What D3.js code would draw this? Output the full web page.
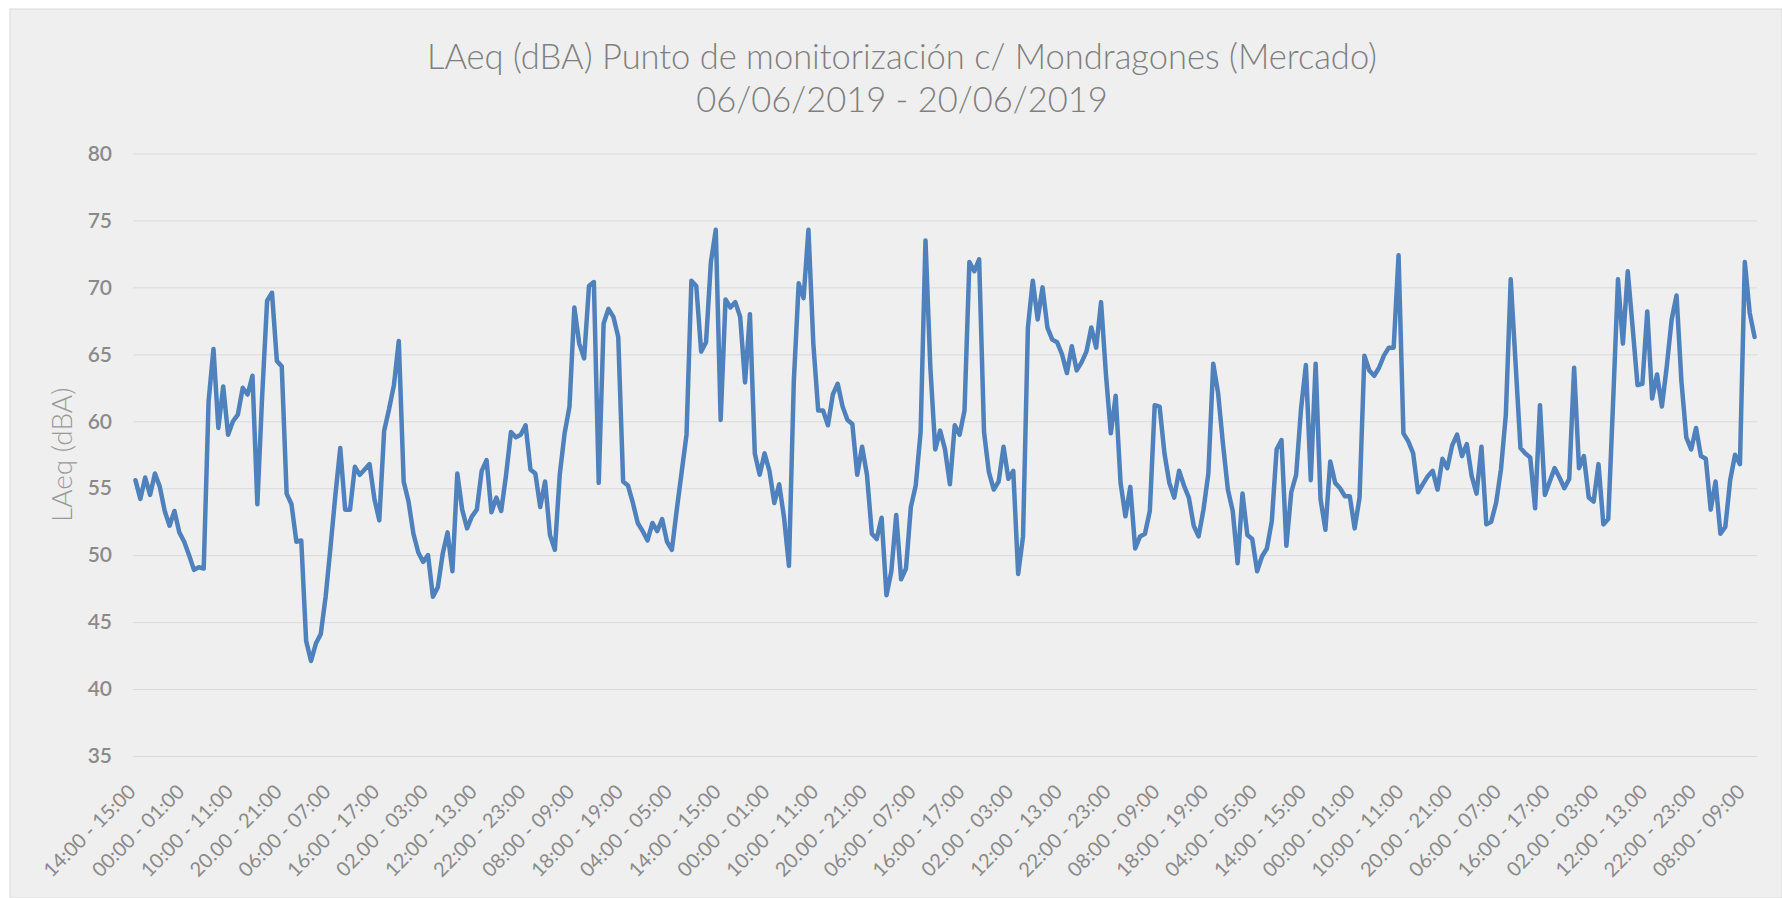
<!DOCTYPE html>
<html>
<head>
<meta charset="utf-8">
<script src="https://cdn.jsdelivr.net/npm/d3@7"></script>
<style>
  html, body { margin: 0; padding: 0; background: #fff; }
  svg { display: block; font-family: Lato, "Open Sans", sans-serif; }
</style>
</head>
<body>
<svg id="chart" width="1782" height="898"></svg>
<script>
// titles
const titleLines = [
  "LAeq (dBA) Punto de monitorización c/ Mondragones (Mercado)",
  "06/06/2019 - 20/06/2019"
];
const yTitle = "LAeq (dBA)";

// hourly slot labels, as written in the source sheet (some use "." instead of ":")
const hourSlots = [
  "00:00 - 01:00", "01:00 - 02:00", "02.00 - 03:00", "03:00 - 04:00",
  "04:00 - 05:00", "05:00 - 06:00", "06:00 - 07:00", "07:00 - 08:00",
  "08:00 - 09:00", "09:00 - 10:00", "10:00 - 11:00", "11:00 - 12:00",
  "12:00 - 13.00", "13:00 - 14:00", "14:00 - 15:00", "15:00 - 16:00",
  "16:00 - 17:00", "17:00 - 18:00", "18:00 - 19:00", "19:00 - 20:00",
  "20.00 - 21:00", "21:00 - 22:00", "22:00 - 23:00", "23:00 - 00:00"
];
const firstHour = 14;   // series starts 06/06 14:00
const labelEvery = 10;  // one category label out of ten is shown
const yTicks = [35, 40, 45, 50, 55, 60, 65, 70, 75, 80];

// LAeq per hour (dBA)
const laeq = [
  55.6, 54.2, 55.8, 54.5, 56.1, 55.1, 53.3, 52.2, 53.3, 51.7,
  51.0, 50.0, 48.9, 49.1, 49.0, 61.5, 65.4, 59.5, 62.6, 59.0,
  60.0, 60.5, 62.5, 62.0, 63.4, 53.8, 62.0, 69.0, 69.6, 64.5,
  64.1, 54.6, 53.8, 51.0, 51.1, 43.6, 42.1, 43.4, 44.1, 46.9,
  50.6, 54.5, 58.0, 53.4, 53.4, 56.6, 56.0, 56.4, 56.8, 54.2,
  52.6, 59.3, 60.9, 62.7, 66.0, 55.5, 54.0, 51.6, 50.2, 49.5,
  50.0, 46.9, 47.6, 50.1, 51.7, 48.8, 56.1, 53.4, 52.0, 52.9,
  53.4, 56.3, 57.1, 53.2, 54.3, 53.3, 56.0, 59.2, 58.8, 59.0,
  59.7, 56.4, 56.1, 53.6, 55.5, 51.5, 50.4, 56.0, 59.1, 61.1,
  68.5, 65.8, 64.7, 70.1, 70.4, 55.4, 67.3, 68.4, 67.8, 66.3,
  55.5, 55.2, 53.9, 52.4, 51.8, 51.1, 52.4, 51.8, 52.7, 51.0,
  50.4, 53.4, 56.2, 59.0, 70.5, 70.1, 65.2, 65.9, 71.9, 74.3,
  60.1, 69.1, 68.5, 68.9, 67.8, 62.9, 68.0, 57.6, 56.0, 57.6,
  56.3, 53.9, 55.3, 52.8, 49.2, 63.0, 70.3, 69.2, 74.3, 65.8,
  60.8, 60.8, 59.7, 62.0, 62.8, 61.1, 60.1, 59.8, 56.0, 58.1,
  56.0, 51.6, 51.2, 52.8, 47.0, 48.8, 53.0, 48.2, 49.0, 53.6,
  55.2, 59.2, 73.5, 64.0, 57.9, 59.3, 57.9, 55.3, 59.7, 59.0,
  60.8, 71.9, 71.2, 72.1, 59.2, 56.2, 54.9, 55.5, 58.1, 55.7,
  56.3, 48.6, 51.4, 67.0, 70.5, 67.6, 70.0, 67.0, 66.1, 65.9,
  65.0, 63.6, 65.6, 63.8, 64.4, 65.2, 67.0, 65.5, 68.9, 63.5,
  59.1, 61.9, 55.4, 52.9, 55.1, 50.5, 51.4, 51.6, 53.3, 61.2,
  61.1, 57.6, 55.4, 54.3, 56.3, 55.2, 54.3, 52.2, 51.4, 53.4,
  56.1, 64.3, 62.1, 58.3, 54.9, 53.3, 49.4, 54.6, 51.5, 51.2,
  48.8, 49.9, 50.5, 52.5, 57.9, 58.6, 50.7, 54.7, 56.0, 60.9,
  64.2, 55.6, 64.3, 54.2, 51.9, 57.0, 55.4, 55.0, 54.4, 54.4,
  52.0, 54.3, 64.9, 63.8, 63.4, 64.0, 64.9, 65.5, 65.5, 72.4,
  59.1, 58.5, 57.6, 54.7, 55.3, 55.9, 56.3, 54.9, 57.2, 56.5,
  58.2, 59.0, 57.4, 58.3, 55.9, 54.6, 58.1, 52.3, 52.5, 53.9,
  56.4, 60.5, 70.6, 64.3, 58.0, 57.6, 57.3, 53.5, 61.2, 54.5,
  55.5, 56.5, 55.8, 55.0, 55.7, 64.0, 56.5, 57.4, 54.3, 54.0,
  56.8, 52.3, 52.7, 61.5, 70.6, 65.8, 71.2, 67.0, 62.7, 62.8,
  68.2, 61.7, 63.5, 61.1, 64.1, 67.6, 69.4, 63.0, 58.8, 57.9,
  59.5, 57.4, 57.2, 53.4, 55.5, 51.6, 52.1, 55.6, 57.5, 56.8,
  71.9, 68.1, 66.3
];

const categories = laeq.map((d, i) => hourSlots[(firstHour + i) % 24]);

var svg = d3.select("#chart"),
  width = +svg.attr("width"),
  height = +svg.attr("height");

var plot = { left: 133, right: 1757, top: 153.5, bottom: 756 };

// chart area
svg.append("rect")
  .attr("x", 10).attr("y", 9)
  .attr("width", width - 10).attr("height", height - 9)
  .attr("fill", "#efefef")
  .attr("stroke", "#d9d9d9")
  .attr("stroke-width", 1);

var x = d3.scalePoint()
  .domain(d3.range(laeq.length))
  .range([plot.left, plot.right])
  .padding(0.5);

var y = d3.scaleLinear()
  .domain([35, 80])
  .range([plot.bottom, plot.top]);

// y axis + gridlines
var yAxis = svg.append("g")
  .attr("transform", "translate(" + plot.left + ",0)")
  .call(d3.axisLeft(y)
    .tickValues(yTicks)
    .tickSize(-(plot.right - plot.left))
    .tickPadding(21));
yAxis.select(".domain").remove();
yAxis.selectAll("line").attr("stroke", "#dadada").attr("stroke-width", 1);
yAxis.selectAll("text")
  .attr("fill", "#8a8a8a")
  .style("font-size", "21px")
  .style("font-weight", 600)
  .style("font-family", "Lato, sans-serif");

// x axis labels
var xAxis = svg.append("g")
  .attr("transform", "translate(0," + plot.bottom + ")")
  .call(d3.axisBottom(x)
    .tickValues(d3.range(0, laeq.length, labelEvery))
    .tickFormat((i) => categories[i])
    .tickSize(0));
xAxis.select(".domain").remove();
xAxis.selectAll("text")
  .attr("x", 0).attr("y", 0)
  .attr("dy", "0.35em")
  .attr("text-anchor", "end")
  .attr("transform", "translate(-4,32) rotate(-45)")
  .attr("fill", "#8a8a8a")
  .style("font-size", "20px")
  .style("font-family", "Lato, sans-serif");

// series line
var line = d3.line()
  .x((d, i) => x(i))
  .y((d) => y(d));

svg.append("path")
  .datum(laeq)
  .attr("fill", "none")
  .attr("stroke", "#4f81bd")
  .attr("stroke-width", 4.5)
  .attr("stroke-linejoin", "round")
  .attr("stroke-linecap", "round")
  .attr("d", line);

// titles
svg.selectAll(".title")
  .data(titleLines)
  .enter()
  .append("text")
  .attr("class", "title")
  .attr("x", 902)
  .attr("y", (d, i) => 69 + i * 43)
  .attr("text-anchor", "middle")
  .attr("fill", "#7f7f7f")
  .style("font-size", "34.5px")
  .style("font-weight", 300)
  .text((d) => d);

svg.append("text")
  .attr("transform", "translate(72," + (plot.top + plot.bottom) / 2 + ") rotate(-90)")
  .attr("text-anchor", "middle")
  .attr("fill", "#999999")
  .style("font-size", "28px")
  .style("font-weight", 300)
  .text(yTitle);
</script>
</body>
</html>
